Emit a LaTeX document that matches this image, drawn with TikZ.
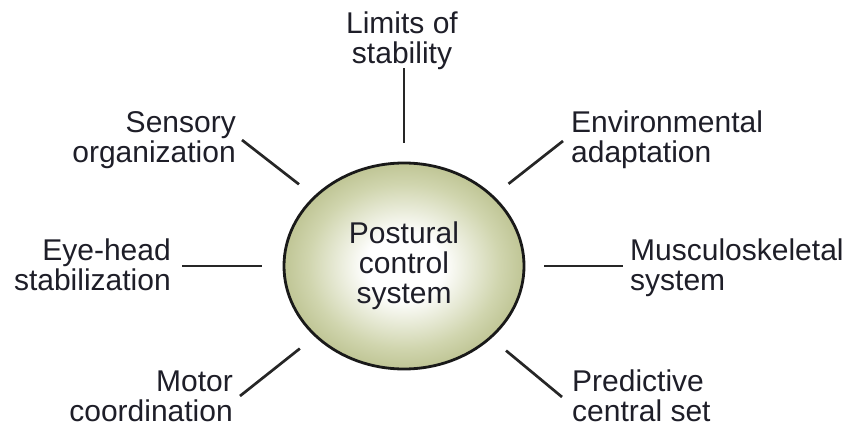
\documentclass[tikz,border=0pt]{standalone}
\usepackage{fontspec}
\setmainfont{Liberation Sans}
\usetikzlibrary{shapes.geometric}
\definecolor{txt}{RGB}{30,30,40}
\definecolor{edgeol}{RGB}{150,158,92}
\definecolor{nearol}{RGB}{168,175,114}
\definecolor{midol}{RGB}{208,213,174}
\pgfdeclareradialshading{ballshade}{\pgfpoint{0bp}{0bp}}{color(0bp)=(white); color(8bp)=(white); color(20bp)=(midol); color(32bp)=(nearol); color(36bp)=(edgeol); color(50bp)=(edgeol)}
\tikzset{
  lbl/.style={inner sep=0pt, text=txt, font=\fontsize{30}{30}\selectfont},
  conn/.style={draw=black!85, line width=2.7pt, shorten <=19pt},
  hub/.style={ellipse, draw=black!90, line width=2.8pt, shading=ballshade,
    minimum width=240pt, minimum height=206pt, inner sep=0pt, align=center,
    text=txt, font=\fontsize{30}{30}\selectfont}
}
\begin{document}
\begin{tikzpicture}[x=1pt,y=-1pt]
\useasboundingbox (0,0) rectangle (851,425);
\node[hub] (c) at (404,266) {Postural\\control\\system};

\node[lbl, align=center, anchor=north] (lim) at (402,12) {Limits of\\stability};
\node[lbl, align=right, anchor=north east] (sen) at (236,111) {Sensory\\organization};
\node[lbl, align=left, anchor=north west] (env) at (571,111) {Environmental\\adaptation};
\node[lbl, align=right, anchor=north east] (eye) at (171,239) {Eye-head\\stabilization};
\node[lbl, align=left, anchor=north west] (mus) at (630,239) {Musculoskeletal\\system};
\node[lbl, align=right, anchor=north east] (mot) at (233,371) {Motor\\coordination};
\node[lbl, align=left, anchor=north west] (pre) at (572,370) {Predictive\\central set};

\coordinate (pLim) at (404,68);
\coordinate (pSen) at (242,140);
\coordinate (pEnv) at (563,141);
\coordinate (pEye) at (182,266);
\coordinate (pMus) at (623,266);
\coordinate (pMot) at (240,396);
\coordinate (pPre) at (562,397);

\draw[conn] (c) -- (pLim);
\draw[conn] (c) -- (pSen);
\draw[conn] (c) -- (pEnv);
\draw[conn, shorten <=21pt] (c) -- (pEye);
\draw[conn] (c) -- (pMus);
\draw[conn] (c) -- (pMot);
\draw[conn] (c) -- (pPre);
\end{tikzpicture}
\end{document}
